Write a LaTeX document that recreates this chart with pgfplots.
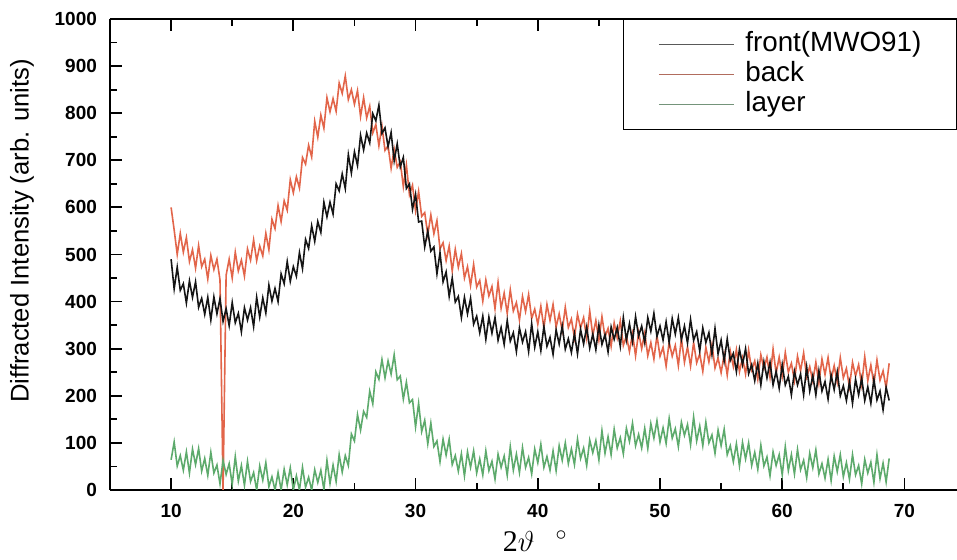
\documentclass[border=0pt]{standalone}
\usepackage{pgfplots}
\usepackage{pgfplotstable}
\pgfplotsset{compat=1.18}
\usepackage{fontspec}
\setmainfont{Liberation Sans}
\newfontfamily\seriffont{Liberation Serif}
\definecolor{cfront}{HTML}{151515}
\definecolor{cback}{HTML}{E2654A}
\definecolor{clayer}{HTML}{5DAA6C}
\pgfplotstableread{
x b r g
10 490 600 64
10.25 427 552 102
10.5 473 500 51
10.75 424 545 73
11 438 505 42
11.25 397 536 81
11.5 444 485 36
11.75 409 510 87
12 442 471 54
12.25 388 519 88
12.5 407 474 40
12.75 373 490 67
13 409 448 31
13.25 361 498 80
13.5 410 468 36
13.75 374 490 53
14 406 446 13
14.25 358 0 63
14.5 385 456 33
14.75 349 490 56
15 398 450 12
15.25 355 505 71
15.5 375 465 19
15.75 336 488 52
16 387 454 10
16.25 361 512 61
16.5 387 488 18
16.75 347 531 37
17 409 487 0
17.25 367 518 51
17.5 408 497 21
17.75 376 545 58
18 435 510 7
18.25 401 575 28
18.5 428 555 0
18.75 400 604 37
19 459 570 0
19.25 438 614 44
19.5 485 594 11
19.75 443 659 47
20 474 631 0
20.25 454 665 30
20.5 504 641 0
20.75 470 706 48
21 532 692 6
21.25 513 732 27
21.5 561 707 0
21.75 528 783 43
22 570 749 16
22.25 547 796 42
22.5 611 768 1
22.75 580 833 63
23 611 803 14
23.25 586 831 53
23.5 650 804 18
23.75 635 864 75
24 671 842 38
24.25 640 879 73
24.5 712 829 52
24.75 673 850 119
25 718 819 104
25.25 689 848 160
25.5 753 793 127
25.75 722 833 167
26 758 790 154
26.25 737 815 210
26.5 799 758 183
26.75 784 776 251
27 817 731 235
27.25 757 773 277
27.5 769 721 238
27.75 729 731 274
28 759 683 246
28.25 699 724 287
28.5 735 685 234
28.75 686 697 242
29 706 644 193
29.25 640 690 229
29.5 650 627 185
29.75 596 647 192
30 628 593 134
30.25 569 634 184
30.5 571 581 124
30.75 516 589 148
31 550 542 98
31.25 507 584 142
31.5 516 544 92
31.75 459 572 104
32 504 512 60
32.25 442 525 108
32.5 463 487 74
32.75 411 518 108
33 450 465 54
33.25 399 511 73
33.5 411 473 40
33.75 366 502 77
34 409 450 30
34.25 374 474 81
34.5 407 434 48
34.75 352 479 83
35 369 431 36
35.25 334 445 66
35.5 369 401 32
35.75 320 446 83
36 367 412 41
36.25 333 432 61
36.5 366 385 23
36.75 318 441 76
37 345 386 48
37.25 309 418 72
37.5 360 375 31
37.75 316 425 92
38 334 380 42
38.25 294 398 76
38.5 344 361 37
38.75 314 411 90
39 336 379 48
39.25 294 415 69
39.5 353 364 34
39.75 303 384 87
40 336 352 58
40.25 296 390 97
40.5 347 344 48
40.75 305 394 71
41 324 360 42
41.25 288 394 83
41.5 340 346 41
41.75 310 374 94
42 348 338 63
42.25 299 388 100
42.5 321 345 56
42.75 292 363 87
43 332 323 54
43.25 289 373 108
43.5 341 344 67
43.75 310 366 89
44 346 322 52
44.25 301 380 106
44.5 331 328 79
44.75 298 360 105
45 350 318 64
45.25 309 368 126
45.5 330 325 78
45.75 293 343 113
46 346 305 75
46.25 320 355 129
46.5 345 323 89
46.75 305 359 111
47 366 307 77
47.25 318 327 131
47.5 353 294 103
47.75 315 332 142
48 368 285 94
48.25 327 335 118
48.5 348 300 89
48.75 313 334 131
49 366 285 88
49.25 337 313 141
49.5 375 278 110
49.75 326 328 147
50 348 284 102
50.25 318 303 132
50.5 357 263 99
50.75 313 314 152
51 364 284 110
51.25 331 307 130
51.5 366 264 92
51.75 319 322 144
52 348 271 116
52.25 312 304 139
52.5 362 263 96
52.75 318 313 155
53 336 270 104
53.25 295 289 136
53.5 344 252 94
53.75 313 303 144
54 334 272 100
54.25 288 309 117
54.5 343 259 78
54.75 289 280 127
55 318 249 94
55.25 274 288 129
55.5 321 244 75
55.75 275 295 94
56 290 262 60
56.25 251 298 98
56.5 299 251 51
56.75 266 281 101
57 300 246 66
57.25 247 297 100
57.5 266 255 52
57.75 232 274 80
58 269 235 44
58.25 223 287 95
58.5 272 258 51
58.75 238 282 70
59 271 239 30
59.25 223 299 81
59.5 252 248 52
59.75 216 282 75
60 266 241 32
60.25 223 292 92
60.5 241 250 41
60.75 202 269 75
61 252 232 34
61.25 223 284 86
61.5 246 253 43
61.75 202 291 63
62 261 240 26
62.25 210 262 78
62.5 243 231 47
62.75 202 271 85
63 253 226 34
63.25 210 278 56
63.5 230 245 25
63.75 193 281 65
64 244 234 20
64.25 213 264 72
64.5 251 229 39
64.75 200 281 75
65 221 238 28
65.25 190 258 58
65.5 229 219 23
65.75 184 271 75
66 235 242 32
66.25 202 266 52
66.5 237 223 13
66.75 190 283 65
67 219 232 36
67.25 184 265 59
67.5 235 225 16
67.75 191 276 75
68 210 233 24
68.25 170 253 57
68.5 218 217 17
68.75 190 269 67
}\xrd
\begin{document}
\begin{tikzpicture}
\begin{axis}[
  scale only axis,
  width=423.5pt, height=235.5pt,
  xmin=5, xmax=74.3, ymin=0, ymax=1000,
  axis x line=box, axis y line=left,
  x axis line style={-, line width=0.9pt},
  y axis line style={-, line width=0.9pt},
  xtick={10,20,...,70}, minor xtick={15,25,...,65},
  ytick={0,100,...,1000}, minor ytick={50,150,...,950},
  tick align=inside,
  major tick length=6pt, minor tick length=3.5pt,
  every tick/.style={black, line width=0.9pt},
  /pgf/number format/assume math mode=true,
  /pgf/number format/1000 sep={},
  tick label style={font=\fontsize{9.5}{11}\selectfont\bfseries},
  xticklabel style={yshift=-3.5pt},
  yticklabel style={xshift=-3pt},
  xlabel={{\seriffont 2$\vartheta$\hspace{0.7em}$^{\circ}$}},
  ylabel={Diffracted Intensity (arb. units)},
  every axis x label/.style={at={(axis description cs:0.502,0)}, anchor=center, yshift=-25.5pt, font=\fontsize{15}{18}\selectfont},
  every axis y label/.style={at={(axis description cs:0,0.55)}, rotate=90, anchor=center, yshift=44pt, font=\fontsize{12.8}{15}\selectfont},
  clip=true,
  legend cell align=left,
  legend style={at={(1,1)}, anchor=north east, draw=black, line width=0.6pt,
    inner xsep=17.5pt, inner ysep=5pt, column sep=5.5pt, row sep=0pt,
    font=\fontsize{13.9}{15}\selectfont,
    nodes={inner sep=0pt, text height=11pt, text depth=4pt}},
  legend image code/.code={\draw[#1] (0pt,0pt) -- (37.5pt,0pt);},
]
\addlegendimage{black!65, line width=0.5pt}
\addlegendentry{front(MWO91)}
\addlegendimage{cback!70!black!80, line width=0.5pt}
\addlegendentry{back}
\addlegendimage{clayer!60!black!70, line width=0.5pt}
\addlegendentry{layer}
\addplot[cback, line width=0.8pt, forget plot] table[x=x, y=r] {\xrd};
\addplot[cfront, line width=0.8pt, forget plot] table[x=x, y=b] {\xrd};
\addplot[clayer, line width=0.8pt, forget plot] table[x=x, y=g] {\xrd};
\end{axis}
\pgfresetboundingbox
\path ([shift={(-55pt,-35pt)}]current axis.south west) rectangle ([shift={(0pt,9.5pt)}]current axis.north east);
\end{tikzpicture}
\end{document}
